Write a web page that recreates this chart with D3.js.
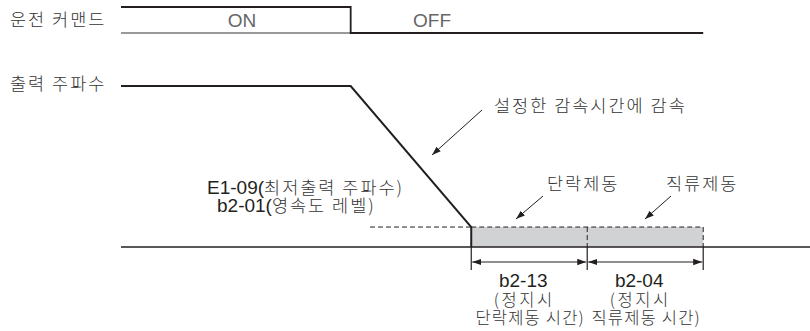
<!DOCTYPE html>
<meta charset="utf-8">
<script src="https://d3js.org/d3.v7.min.js"></script>
<style>
  body { margin: 0; background: #fff; }
  text { font-family: "Noto Sans CJK KR", "Noto Sans", sans-serif; fill: #333; font-size: 17.5px; letter-spacing: 2px; font-weight: 300; }
  .lat { font-family: "Liberation Sans", Arial, sans-serif; letter-spacing: 0; font-weight: 400; }
</style>
<div id="my_dataviz"></div>
<script>
  // timing events (arbitrary time units)
  var times = { start: 0, off: 2.0, minFreq: 3.05, b213End: 4.06, b204End: 5.07, end: 6.0 };
  // output frequency levels (% of max)
  var freqLevels = { zero: 0, min: 12.4, max: 100 };
  // run command states
  var cmdStates = ["ON", "OFF"];
  // annotation texts
  var rowLabels = ["운전 커맨드", "출력 주파수"];
  var minFreqLabels = [["E1-09(", "최저출력 주파수)"], ["b2-01(", "영속도 레벨)"]];
  var brakeLabels = ["단락제동", "직류제동"];
  var dimLabels = [
    ["b2-13", "(정지시", "단락제동 시간)"],
    ["b2-04", "(정지시", "직류제동 시간)"]
  ];
  var decelLabel = "설정한 감속시간에 감속";

  var W = 810, H = 331;
  var svg = d3.select("#my_dataviz").append("svg")
    .attr("width", W).attr("height", H);

  var x = d3.scaleLinear().domain([times.start, times.end]).range([121, 810]);
  var y = d3.scaleLinear().domain([freqLevels.zero, freqLevels.max]).range([247, 86]);
  var yCmd = d3.scaleOrdinal().domain(cmdStates).range([7, 33]);

  var ink = "#231f20";

  // arrow marker
  var defs = svg.append("defs");
  defs.append("marker").attr("id", "ah")
    .attr("viewBox", "0 0 10 10").attr("refX", 10).attr("refY", 5)
    .attr("markerWidth", 9).attr("markerHeight", 9).attr("orient", "auto-start-reverse")
    .attr("markerUnits", "userSpaceOnUse")
    .append("path").attr("d", "M0,1.5 L10,5 L0,8.5 Z").attr("fill", ink);

  // row labels
  svg.append("text").attr("x", 10).attr("y", 26).text(rowLabels[0]);
  svg.append("text").attr("x", 10).attr("y", 90).text(rowLabels[1]);

  // run command signal
  svg.append("line")
    .attr("x1", x(times.start)).attr("x2", x(times.off))
    .attr("y1", yCmd("OFF")).attr("y2", yCmd("OFF"))
    .attr("stroke", "#777").attr("stroke-width", 1.5);
  svg.append("path")
    .attr("d", d3.line()([
      [x(times.start), yCmd("ON")], [x(times.off), yCmd("ON")],
      [x(times.off), yCmd("OFF")], [x(times.b204End), yCmd("OFF")]
    ]))
    .attr("fill", "none").attr("stroke", ink).attr("stroke-width", 1.8);
  svg.append("text").attr("class", "lat")
    .attr("x", 242).attr("y", 27)
    .attr("text-anchor", "middle").style("font-size", "19px").style("fill", "#666").text(cmdStates[0]);
  svg.append("text").attr("class", "lat")
    .attr("x", 413).attr("y", 27)
    .style("font-size", "19px").style("fill", "#666").text(cmdStates[1]);

  // braking area (shaded)
  svg.append("rect")
    .attr("x", x(times.minFreq)).attr("y", y(freqLevels.min))
    .attr("width", x(times.b204End) - x(times.minFreq))
    .attr("height", y(freqLevels.zero) - y(freqLevels.min))
    .attr("fill", "#d1d2d4");
  // dashed outline
  svg.append("path")
    .attr("d", d3.line()([
      [x(times.minFreq), y(freqLevels.min)], [x(times.b204End), y(freqLevels.min)],
      [x(times.b204End), y(freqLevels.zero)]
    ]))
    .attr("fill", "none").attr("stroke", ink).attr("stroke-width", 1).attr("stroke-dasharray", "5,3");
  svg.append("line")
    .attr("x1", x(times.b213End)).attr("x2", x(times.b213End))
    .attr("y1", y(freqLevels.min)).attr("y2", y(freqLevels.zero))
    .attr("stroke", ink).attr("stroke-width", 1).attr("stroke-dasharray", "5,3");
  // dashed min level leader
  svg.append("line")
    .attr("x1", 370).attr("x2", x(times.minFreq))
    .attr("y1", y(freqLevels.min)).attr("y2", y(freqLevels.min))
    .attr("stroke", ink).attr("stroke-width", 1).attr("stroke-dasharray", "5,3");

  // zero baseline
  svg.append("line")
    .attr("x1", x(times.start)).attr("x2", x(times.end))
    .attr("y1", y(0)).attr("y2", y(0))
    .attr("stroke", ink).attr("stroke-width", 1.5);

  // output frequency
  svg.append("path")
    .attr("d", d3.line()([
      [x(times.start), y(freqLevels.max)], [x(times.off), y(freqLevels.max)],
      [x(times.minFreq), y(freqLevels.min)], [x(times.minFreq), y(freqLevels.zero)]
    ]))
    .attr("fill", "none").attr("stroke", ink).attr("stroke-width", 2);

  // dimension lines
  [times.minFreq, times.b213End, times.b204End].forEach(function (t) {
    svg.append("line")
      .attr("x1", x(t)).attr("x2", x(t)).attr("y1", y(0)).attr("y2", 270)
      .attr("stroke", ink).attr("stroke-width", 1.2);
  });
  [[times.minFreq, times.b213End], [times.b213End, times.b204End]].forEach(function (p, i) {
    svg.append("line")
      .attr("x1", x(p[0]) + 1).attr("x2", x(p[1]) - 1).attr("y1", 262).attr("y2", 262)
      .attr("stroke", ink).attr("stroke-width", 1.2)
      .attr("marker-start", "url(#ah)").attr("marker-end", "url(#ah)");
    var cx = (x(p[0]) + x(p[1])) / 2;
    svg.append("text").attr("class", "lat").attr("x", cx - 6).attr("y", 287)
      .attr("text-anchor", "middle").style("font-size", "19px").style("fill", ink).text(dimLabels[i][0]);
    svg.append("text").attr("x", cx - 5).attr("y", 306)
      .attr("text-anchor", "middle").style("font-size", "16.5px").style("letter-spacing", "2.5px").text(dimLabels[i][1]);
    svg.append("text").attr("x", cx + 1).attr("y", 324)
      .attr("text-anchor", "middle").style("font-size", "16.5px").style("letter-spacing", "1.2px").text(dimLabels[i][2]);
  });

  // min frequency labels
  [[207, 194], [217, 212]].forEach(function (pos, i) {
    var t = svg.append("text").attr("x", pos[0]).attr("y", pos[1]);
    t.append("tspan").attr("class", "lat").style("font-size", "19px").style("fill", ink).text(minFreqLabels[i][0]);
    t.append("tspan").text(minFreqLabels[i][1]);
  });

  // decel annotation
  svg.append("text").attr("x", 494).attr("y", 112).text(decelLabel);
  svg.append("line").attr("x1", 482).attr("y1", 110).attr("x2", 432).attr("y2", 155)
    .attr("stroke", ink).attr("stroke-width", 1).attr("marker-end", "url(#ah)");

  // braking annotations
  var brakeText = [[547, 190, 543, 196, 516, 219], [666, 190, 671, 196, 645, 219]];
  brakeText.forEach(function (b, i) {
    svg.append("text").attr("x", b[0]).attr("y", b[1]).text(brakeLabels[i]);
    svg.append("line").attr("x1", b[2]).attr("y1", b[3]).attr("x2", b[4]).attr("y2", b[5])
      .attr("stroke", ink).attr("stroke-width", 1).attr("marker-end", "url(#ah)");
  });
</script>
